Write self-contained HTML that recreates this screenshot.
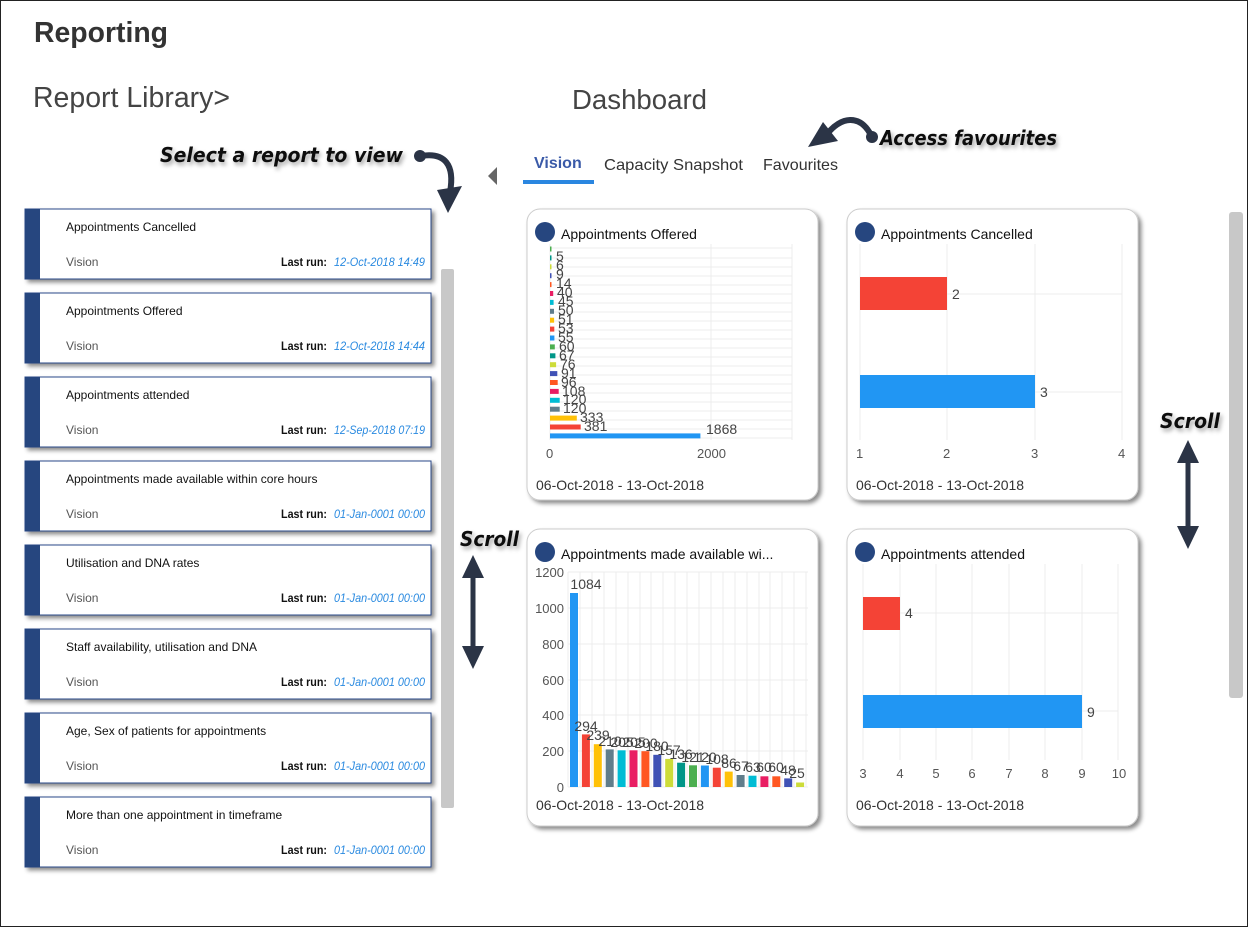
<!DOCTYPE html>
<html><head><meta charset="utf-8"><style>
html,body{margin:0;padding:0;background:#fff}
svg{display:block}
text{font-family:"Liberation Sans","DejaVu Sans",sans-serif}
.t{font-size:12px;fill:#111}
.v{font-size:12px;fill:#555}
.lr{font-size:12px;font-weight:bold;fill:#111}
.d{font-size:12px;font-style:italic;fill:#2a8ae0}
.ax{font-size:13px;fill:#555}
.val{font-size:14px;fill:#444}
.ct{font-size:14px;fill:#111}
.dt{font-size:14px;fill:#333}
.ann{font-family:"DejaVu Sans",sans-serif;font-size:20px;font-style:italic;font-weight:bold;fill:#111}
.g{stroke:#ececec;stroke-width:1}
</style></head><body>
<svg width="1248" height="927" viewBox="0 0 1248 927" xmlns="http://www.w3.org/2000/svg">
<defs>
<filter id="sh" x="-10%" y="-10%" width="130%" height="130%"><feDropShadow dx="3" dy="3" stdDeviation="2" flood-color="#000" flood-opacity="0.45"/></filter>
<filter id="ts" x="-10%" y="-30%" width="120%" height="160%"><feDropShadow dx="2" dy="3" stdDeviation="2" flood-color="#000" flood-opacity="0.35"/></filter>
</defs>
<rect x="0.5" y="0.5" width="1247" height="926" fill="#fff" stroke="#222"/>
<text x="34" y="42" textLength="134" lengthAdjust="spacingAndGlyphs" style="font-size:29px;font-weight:bold;fill:#333">Reporting</text>
<text x="33" y="107" textLength="197" lengthAdjust="spacingAndGlyphs" style="font-size:29px;fill:#444">Report Library&gt;</text>
<text x="572" y="109" textLength="135" lengthAdjust="spacingAndGlyphs" style="font-size:28px;fill:#444">Dashboard</text>

<!-- annotations -->
<text x="160" y="162" class="ann" textLength="243" lengthAdjust="spacingAndGlyphs" filter="url(#ts)">Select a report to view</text>
<path d="M421 156 C445 152 455 165 450 192" fill="none" stroke="#2b3446" stroke-width="6" stroke-linecap="round"/>
<circle cx="420" cy="156" r="6" fill="#2b3446"/>
<polygon points="437,190 462,186 448,213" fill="#2b3446"/>
<text x="880" y="145" class="ann" textLength="177" lengthAdjust="spacingAndGlyphs" filter="url(#ts)">Access favourites</text>
<path d="M872 137 C860 112 840 118 828 133" fill="none" stroke="#2b3446" stroke-width="6" stroke-linecap="round"/>
<circle cx="872" cy="137" r="6" fill="#2b3446"/>
<polygon points="808,147 823,122 838,141" fill="#2b3446"/>
<text x="460" y="546" class="ann" textLength="59" lengthAdjust="spacingAndGlyphs" filter="url(#ts)">Scroll</text>
<line x1="473" y1="568" x2="473" y2="656" stroke="#2b3446" stroke-width="5"/>
<polygon points="462,578 473,555 484,578" fill="#2b3446"/>
<polygon points="462,646 473,669 484,646" fill="#2b3446"/>
<text x="1160" y="428" class="ann" textLength="60" lengthAdjust="spacingAndGlyphs" filter="url(#ts)">Scroll</text>
<line x1="1188" y1="452" x2="1188" y2="536" stroke="#2b3446" stroke-width="5"/>
<polygon points="1177,463 1188,440 1199,463" fill="#2b3446"/>
<polygon points="1177,526 1188,549 1199,526" fill="#2b3446"/>

<!-- tabs -->
<polygon points="497,167 497,185 488,176" fill="#666"/>
<text x="534" y="168" style="font-size:16px;font-weight:bold;fill:#3a5aa8">Vision</text>
<rect x="523" y="180" width="71" height="4" fill="#2a86e0"/>
<text x="604" y="170" textLength="139" lengthAdjust="spacingAndGlyphs" style="font-size:16px;fill:#333">Capacity Snapshot</text>
<text x="763" y="170" textLength="75" lengthAdjust="spacingAndGlyphs" style="font-size:16px;fill:#333">Favourites</text>

<!-- scrollbars -->
<rect x="441" y="269" width="13" height="539" rx="2" fill="#c8c8c8"/>
<rect x="1229" y="212" width="14" height="486" rx="3" fill="#c8c8c8"/>

<!-- report cards -->
<g id="cards">
<g transform="translate(0,0)">
<rect x="25" y="209" width="406" height="70" fill="#fff" stroke="#2a4a8a" filter="url(#sh)"/><rect x="25" y="209" width="15" height="70" fill="#26467f"/>
<text x="66" y="231" class="t">Appointments Cancelled</text><text x="66" y="266" class="v">Vision</text>
<text x="281" y="266" class="lr" textLength="46" lengthAdjust="spacingAndGlyphs">Last run:</text><text x="334" y="266" class="d" textLength="91" lengthAdjust="spacingAndGlyphs">12-Oct-2018 14:49</text></g>
<g transform="translate(0,84)">
<rect x="25" y="209" width="406" height="70" fill="#fff" stroke="#2a4a8a" filter="url(#sh)"/><rect x="25" y="209" width="15" height="70" fill="#26467f"/>
<text x="66" y="231" class="t">Appointments Offered</text><text x="66" y="266" class="v">Vision</text>
<text x="281" y="266" class="lr" textLength="46" lengthAdjust="spacingAndGlyphs">Last run:</text><text x="334" y="266" class="d" textLength="91" lengthAdjust="spacingAndGlyphs">12-Oct-2018 14:44</text></g>
<g transform="translate(0,168)">
<rect x="25" y="209" width="406" height="70" fill="#fff" stroke="#2a4a8a" filter="url(#sh)"/><rect x="25" y="209" width="15" height="70" fill="#26467f"/>
<text x="66" y="231" class="t">Appointments attended</text><text x="66" y="266" class="v">Vision</text>
<text x="281" y="266" class="lr" textLength="46" lengthAdjust="spacingAndGlyphs">Last run:</text><text x="334" y="266" class="d" textLength="91" lengthAdjust="spacingAndGlyphs">12-Sep-2018 07:19</text></g>
<g transform="translate(0,252)">
<rect x="25" y="209" width="406" height="70" fill="#fff" stroke="#2a4a8a" filter="url(#sh)"/><rect x="25" y="209" width="15" height="70" fill="#26467f"/>
<text x="66" y="231" class="t">Appointments made available within core hours</text><text x="66" y="266" class="v">Vision</text>
<text x="281" y="266" class="lr" textLength="46" lengthAdjust="spacingAndGlyphs">Last run:</text><text x="334" y="266" class="d" textLength="91" lengthAdjust="spacingAndGlyphs">01-Jan-0001 00:00</text></g>
<g transform="translate(0,336)">
<rect x="25" y="209" width="406" height="70" fill="#fff" stroke="#2a4a8a" filter="url(#sh)"/><rect x="25" y="209" width="15" height="70" fill="#26467f"/>
<text x="66" y="231" class="t">Utilisation and DNA rates</text><text x="66" y="266" class="v">Vision</text>
<text x="281" y="266" class="lr" textLength="46" lengthAdjust="spacingAndGlyphs">Last run:</text><text x="334" y="266" class="d" textLength="91" lengthAdjust="spacingAndGlyphs">01-Jan-0001 00:00</text></g>
<g transform="translate(0,420)">
<rect x="25" y="209" width="406" height="70" fill="#fff" stroke="#2a4a8a" filter="url(#sh)"/><rect x="25" y="209" width="15" height="70" fill="#26467f"/>
<text x="66" y="231" class="t">Staff availability, utilisation and DNA</text><text x="66" y="266" class="v">Vision</text>
<text x="281" y="266" class="lr" textLength="46" lengthAdjust="spacingAndGlyphs">Last run:</text><text x="334" y="266" class="d" textLength="91" lengthAdjust="spacingAndGlyphs">01-Jan-0001 00:00</text></g>
<g transform="translate(0,504)">
<rect x="25" y="209" width="406" height="70" fill="#fff" stroke="#2a4a8a" filter="url(#sh)"/><rect x="25" y="209" width="15" height="70" fill="#26467f"/>
<text x="66" y="231" class="t">Age, Sex of patients for appointments</text><text x="66" y="266" class="v">Vision</text>
<text x="281" y="266" class="lr" textLength="46" lengthAdjust="spacingAndGlyphs">Last run:</text><text x="334" y="266" class="d" textLength="91" lengthAdjust="spacingAndGlyphs">01-Jan-0001 00:00</text></g>
<g transform="translate(0,588)">
<rect x="25" y="209" width="406" height="70" fill="#fff" stroke="#2a4a8a" filter="url(#sh)"/><rect x="25" y="209" width="15" height="70" fill="#26467f"/>
<text x="66" y="231" class="t">More than one appointment in timeframe</text><text x="66" y="266" class="v">Vision</text>
<text x="281" y="266" class="lr" textLength="46" lengthAdjust="spacingAndGlyphs">Last run:</text><text x="334" y="266" class="d" textLength="91" lengthAdjust="spacingAndGlyphs">01-Jan-0001 00:00</text></g>
</g>

<!-- chart cards -->
<rect x="527" y="209" width="291" height="291" rx="13" fill="#fff" stroke="#ccc" filter="url(#sh)"/>
<rect x="847" y="209" width="291" height="291" rx="13" fill="#fff" stroke="#ccc" filter="url(#sh)"/>
<rect x="527" y="529" width="291" height="297" rx="13" fill="#fff" stroke="#ccc" filter="url(#sh)"/>
<rect x="847" y="529" width="291" height="297" rx="13" fill="#fff" stroke="#ccc" filter="url(#sh)"/>

<!-- chart 1 -->
<circle cx="545" cy="232" r="10" fill="#26467f"/>
<text x="561" y="239" class="ct">Appointments Offered</text>
<g class="g">
<line x1="550" y1="244" x2="550" y2="440"/><line x1="711" y1="244" x2="711" y2="440"/><line x1="792" y1="244" x2="792" y2="440"/>
<line x1="550" y1="248" x2="792" y2="248"/><line x1="550" y1="258" x2="792" y2="258"/><line x1="550" y1="267" x2="792" y2="267"/><line x1="550" y1="276" x2="792" y2="276"/><line x1="550" y1="285" x2="792" y2="285"/><line x1="550" y1="294" x2="792" y2="294"/><line x1="550" y1="303" x2="792" y2="303"/><line x1="550" y1="312" x2="792" y2="312"/><line x1="550" y1="321" x2="792" y2="321"/><line x1="550" y1="330" x2="792" y2="330"/><line x1="550" y1="339" x2="792" y2="339"/><line x1="550" y1="348" x2="792" y2="348"/><line x1="550" y1="357" x2="792" y2="357"/><line x1="550" y1="366" x2="792" y2="366"/><line x1="550" y1="375" x2="792" y2="375"/><line x1="550" y1="384" x2="792" y2="384"/><line x1="550" y1="393" x2="792" y2="393"/><line x1="550" y1="402" x2="792" y2="402"/><line x1="550" y1="411" x2="792" y2="411"/><line x1="550" y1="420" x2="792" y2="420"/><line x1="550" y1="429" x2="792" y2="429"/><line x1="550" y1="438" x2="792" y2="438"/>
</g>
<g>
<rect x="550" y="246.5" width="1.5" height="5" fill="#4caf50"/>
<rect x="550" y="255.4" width="1.5" height="5" fill="#009688"/>
<rect x="550" y="264.3" width="1.5" height="5" fill="#cddc39"/>
<rect x="550" y="273.2" width="1.5" height="5" fill="#3f51b5"/>
<rect x="550" y="282.1" width="1.5" height="5" fill="#ff5722"/>
<rect x="550" y="291" width="3.2" height="5" fill="#e91e63"/>
<rect x="550" y="299.9" width="3.6" height="5" fill="#00bcd4"/>
<rect x="550" y="308.8" width="4" height="5" fill="#607d8b"/>
<rect x="550" y="317.7" width="4.1" height="5" fill="#ffc107"/>
<rect x="550" y="326.6" width="4.3" height="5" fill="#f44336"/>
<rect x="550" y="335.5" width="4.4" height="5" fill="#2196f3"/>
<rect x="550" y="344.4" width="4.8" height="5" fill="#4caf50"/>
<rect x="550" y="353.3" width="5.4" height="5" fill="#009688"/>
<rect x="550" y="362.2" width="6.1" height="5" fill="#cddc39"/>
<rect x="550" y="371.1" width="7.3" height="5" fill="#3f51b5"/>
<rect x="550" y="380" width="7.7" height="5" fill="#ff5722"/>
<rect x="550" y="388.9" width="8.7" height="5" fill="#e91e63"/>
<rect x="550" y="397.8" width="9.7" height="5" fill="#00bcd4"/>
<rect x="550" y="406.7" width="9.7" height="5" fill="#607d8b"/>
<rect x="550" y="415.6" width="26.8" height="5" fill="#ffc107"/>
<rect x="550" y="424.5" width="30.7" height="5" fill="#f44336"/>
<rect x="550" y="433.4" width="150.4" height="5" fill="#2196f3"/>
</g>
<g class="val">
<text x="556" y="261">5</text><text x="556" y="270">6</text><text x="556" y="279">9</text><text x="556" y="288">14</text>
<text x="557" y="297">40</text><text x="558" y="306">45</text><text x="558" y="315">50</text><text x="558" y="324">51</text>
<text x="558" y="333">53</text><text x="558" y="342">55</text><text x="559" y="351">60</text><text x="559" y="360">67</text>
<text x="560" y="369">76</text><text x="561" y="378">91</text><text x="561" y="387">96</text><text x="562" y="396">108</text>
<text x="563" y="404">120</text><text x="563" y="413">120</text><text x="580" y="422">333</text><text x="584" y="431">381</text>
<text x="706" y="434">1868</text>
</g>
<text x="546" y="458" class="ax">0</text><text x="697" y="458" class="ax">2000</text>
<text x="536" y="490" class="dt">06-Oct-2018 - 13-Oct-2018</text>

<!-- chart 2 -->
<circle cx="865" cy="232" r="10" fill="#26467f"/>
<text x="881" y="239" class="ct">Appointments Cancelled</text>
<g class="g">
<line x1="860" y1="244" x2="860" y2="440"/><line x1="947" y1="244" x2="947" y2="440"/><line x1="1035" y1="244" x2="1035" y2="440"/><line x1="1122" y1="244" x2="1122" y2="440"/>
<line x1="860" y1="294" x2="1122" y2="294"/><line x1="860" y1="392" x2="1122" y2="392"/>
</g>
<rect x="860" y="277" width="87" height="33" fill="#f44336"/>
<rect x="860" y="375" width="175" height="33" fill="#2196f3"/>
<text x="952" y="299" class="val">2</text><text x="1040" y="397" class="val">3</text>
<text x="856" y="458" class="ax">1</text><text x="943" y="458" class="ax">2</text><text x="1031" y="458" class="ax">3</text><text x="1118" y="458" class="ax">4</text>
<text x="856" y="490" class="dt">06-Oct-2018 - 13-Oct-2018</text>

<!-- chart 3 -->
<circle cx="545" cy="552" r="10" fill="#26467f"/>
<text x="561" y="559" class="ct">Appointments made available wi...</text>
<g class="g">
<line x1="568" y1="572" x2="808" y2="572"/><line x1="568" y1="608" x2="808" y2="608"/><line x1="568" y1="644" x2="808" y2="644"/><line x1="568" y1="680" x2="808" y2="680"/><line x1="568" y1="715" x2="808" y2="715"/><line x1="568" y1="751" x2="808" y2="751"/><line x1="568" y1="787" x2="808" y2="787"/>
<line x1="568" y1="572" x2="568" y2="787"/><line x1="580" y1="572" x2="580" y2="787"/><line x1="592" y1="572" x2="592" y2="787"/><line x1="604" y1="572" x2="604" y2="787"/><line x1="616" y1="572" x2="616" y2="787"/><line x1="628" y1="572" x2="628" y2="787"/><line x1="640" y1="572" x2="640" y2="787"/><line x1="651" y1="572" x2="651" y2="787"/><line x1="663" y1="572" x2="663" y2="787"/><line x1="675" y1="572" x2="675" y2="787"/><line x1="687" y1="572" x2="687" y2="787"/><line x1="699" y1="572" x2="699" y2="787"/><line x1="711" y1="572" x2="711" y2="787"/><line x1="723" y1="572" x2="723" y2="787"/><line x1="735" y1="572" x2="735" y2="787"/><line x1="747" y1="572" x2="747" y2="787"/><line x1="759" y1="572" x2="759" y2="787"/><line x1="770" y1="572" x2="770" y2="787"/><line x1="782" y1="572" x2="782" y2="787"/><line x1="794" y1="572" x2="794" y2="787"/><line x1="806" y1="572" x2="806" y2="787"/>
</g>
<g>
<rect x="570" y="593" width="8" height="194" fill="#2196f3"/>
<rect x="581.9" y="734.4" width="8" height="52.6" fill="#f44336"/>
<rect x="593.8" y="744.2" width="8" height="42.8" fill="#ffc107"/>
<rect x="605.7" y="749.4" width="8" height="37.6" fill="#607d8b"/>
<rect x="617.6" y="750.3" width="8" height="36.7" fill="#00bcd4"/>
<rect x="629.5" y="750.3" width="8" height="36.7" fill="#e91e63"/>
<rect x="641.4" y="751.2" width="8" height="35.8" fill="#ff5722"/>
<rect x="653.3" y="754.8" width="8" height="32.2" fill="#3f51b5"/>
<rect x="665.2" y="758.9" width="8" height="28.1" fill="#cddc39"/>
<rect x="677.1" y="762.7" width="8" height="24.3" fill="#009688"/>
<rect x="689" y="765.3" width="8" height="21.7" fill="#4caf50"/>
<rect x="700.9" y="765.5" width="8" height="21.5" fill="#2196f3"/>
<rect x="712.8" y="767.7" width="8" height="19.3" fill="#f44336"/>
<rect x="724.7" y="771.6" width="8" height="15.4" fill="#ffc107"/>
<rect x="736.6" y="775" width="8" height="12" fill="#607d8b"/>
<rect x="748.5" y="775.7" width="8" height="11.3" fill="#00bcd4"/>
<rect x="760.4" y="776.3" width="8" height="10.7" fill="#e91e63"/>
<rect x="772.3" y="776.3" width="8" height="10.7" fill="#ff5722"/>
<rect x="784.2" y="778.4" width="8" height="8.6" fill="#3f51b5"/>
<rect x="796.1" y="782.5" width="8" height="4.5" fill="#cddc39"/>
</g>
<g class="val" text-anchor="middle">
<text x="586" y="589">1084</text><text x="586" y="731">294</text><text x="598" y="740">239</text><text x="610" y="746">210</text>
<text x="622" y="747">205</text><text x="634" y="747">205</text><text x="646" y="748">200</text><text x="657" y="751">180</text>
<text x="669" y="755">157</text><text x="681" y="759">136</text><text x="693" y="762">121</text><text x="705" y="762">120</text>
<text x="717" y="764">108</text><text x="729" y="768">86</text><text x="741" y="771">67</text><text x="753" y="772">63</text>
<text x="764" y="772">60</text><text x="776" y="772">60</text><text x="788" y="775">48</text><text x="797" y="778">25</text>
</g>
<g class="ax" text-anchor="end">
<text x="564" y="577">1200</text><text x="564" y="613">1000</text><text x="564" y="649">800</text><text x="564" y="685">600</text><text x="564" y="720">400</text><text x="564" y="756">200</text><text x="564" y="792">0</text>
</g>
<text x="536" y="810" class="dt">06-Oct-2018 - 13-Oct-2018</text>

<!-- chart 4 -->
<circle cx="865" cy="552" r="10" fill="#26467f"/>
<text x="881" y="559" class="ct">Appointments attended</text>
<g class="g">
<line x1="863" y1="564" x2="863" y2="760"/><line x1="900" y1="564" x2="900" y2="760"/><line x1="936" y1="564" x2="936" y2="760"/><line x1="972" y1="564" x2="972" y2="760"/><line x1="1009" y1="564" x2="1009" y2="760"/><line x1="1045" y1="564" x2="1045" y2="760"/><line x1="1082" y1="564" x2="1082" y2="760"/><line x1="1118" y1="564" x2="1118" y2="760"/>
<line x1="863" y1="613" x2="1118" y2="613"/><line x1="863" y1="711" x2="1118" y2="711"/>
</g>
<rect x="863" y="597" width="37" height="33" fill="#f44336"/>
<rect x="863" y="695" width="219" height="33" fill="#2196f3"/>
<text x="905" y="618" class="val">4</text><text x="1087" y="717" class="val">9</text>
<g class="ax" text-anchor="middle">
<text x="863" y="778">3</text><text x="900" y="778">4</text><text x="936" y="778">5</text><text x="972" y="778">6</text><text x="1009" y="778">7</text><text x="1045" y="778">8</text><text x="1082" y="778">9</text><text x="1119" y="778">10</text>
</g>
<text x="856" y="810" class="dt">06-Oct-2018 - 13-Oct-2018</text>
</svg>
</body></html>
